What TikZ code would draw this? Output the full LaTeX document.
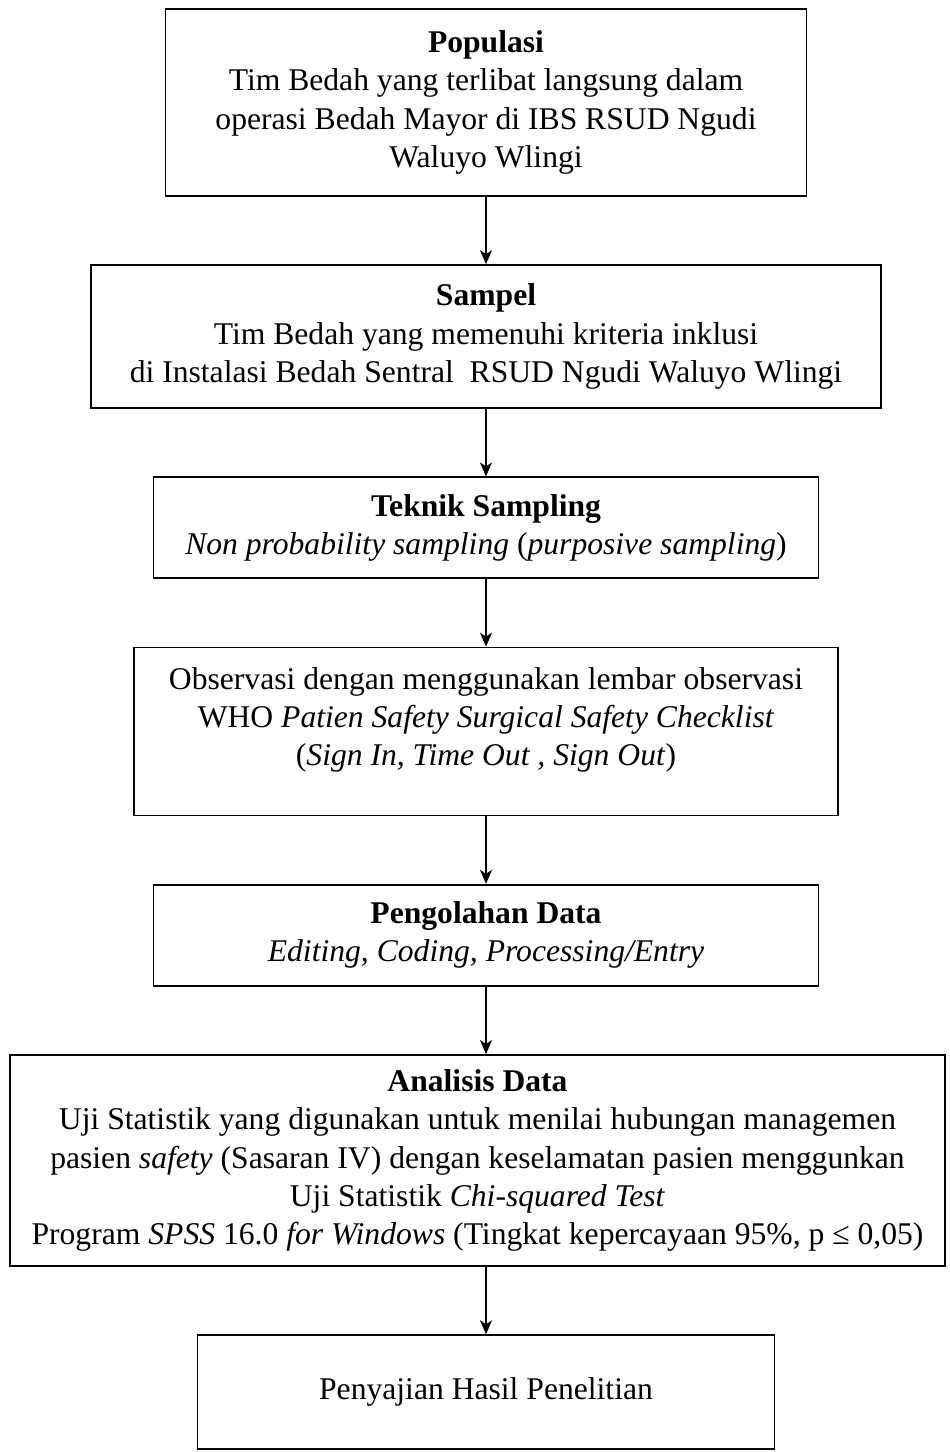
\documentclass[tikz,border=0pt]{standalone}
\usepackage{fontspec}
\setmainfont{Liberation Serif}
\usetikzlibrary{positioning,arrows.meta}

\begin{document}
\begin{tikzpicture}[x=0.02cm, y=-0.02cm, node distance=1.35cm,
    box/.style={rectangle, draw, line width=1pt, align=center, inner sep=0pt,
        font=\fontsize{18}{21.8}\selectfont},
    flow/.style={-{Stealth[length=2.8mm,width=2.4mm,inset=0.8mm]}, line width=1pt}]
    \useasboundingbox (0,0) rectangle (949,1452);

    \node (populasi) [box, minimum width=12.82cm, minimum height=3.74cm, anchor=north] at (486,8)
        {\textbf{Populasi}\\Tim Bedah yang terlibat langsung dalam\\operasi Bedah Mayor di IBS RSUD Ngudi\\Waluyo Wlingi};
    \node (sampel) [box, minimum width=15.8cm, minimum height=2.86cm, below=of populasi]
        {\textbf{Sampel}\\Tim Bedah yang memenuhi kriteria inklusi\\di Instalasi Bedah Sentral\ \ RSUD Ngudi Waluyo Wlingi};
    \node (teknik) [box, minimum width=13.3cm, minimum height=2.02cm, below=of sampel]
        {\textbf{Teknik Sampling}\\\textit{Non probability sampling} (\textit{purposive sampling})};
    \node (observasi) [box, minimum width=14.08cm, minimum height=3.36cm, below=of teknik]
        {Observasi dengan menggunakan lembar observasi\\WHO \textit{Patien Safety Surgical Safety Checklist}\\(\textit{Sign In, Time Out , Sign Out})\\[-0.16cm]};
    \node (pengolahan) [box, minimum width=13.3cm, minimum height=2.02cm, below=of observasi]
        {\textbf{Pengolahan Data}\\\textit{Editing, Coding, Processing/Entry}};
    \node (analisis) [box, minimum width=18.7cm, minimum height=4.22cm, below=of pengolahan, xshift=-0.17cm]
        {\textbf{Analisis Data}\\Uji Statistik yang digunakan untuk menilai hubungan managemen\\
         pasien \textit{safety} (Sasaran IV) dengan keselamatan pasien menggunkan\\
         Uji Statistik \textit{Chi-squared Test}\\
         Program \textit{SPSS} 16.0 \textit{for Windows} (Tingkat kepercayaan 95\%, p ≤ 0,05)};
    \node (penyajian) [box, minimum width=11.54cm, minimum height=2.28cm, below=of analisis, xshift=0.17cm]
        {Penyajian Hasil Penelitian};

    \draw [flow] (populasi) -- (sampel);
    \draw [flow] (sampel) -- (teknik);
    \draw [flow] (teknik) -- (observasi);
    \draw [flow] (observasi) -- (pengolahan);
    \draw [flow] (pengolahan) -- (pengolahan |- analisis.north);
    \draw [flow] (analisis.south -| penyajian) -- (penyajian);
\end{tikzpicture}
\end{document}
